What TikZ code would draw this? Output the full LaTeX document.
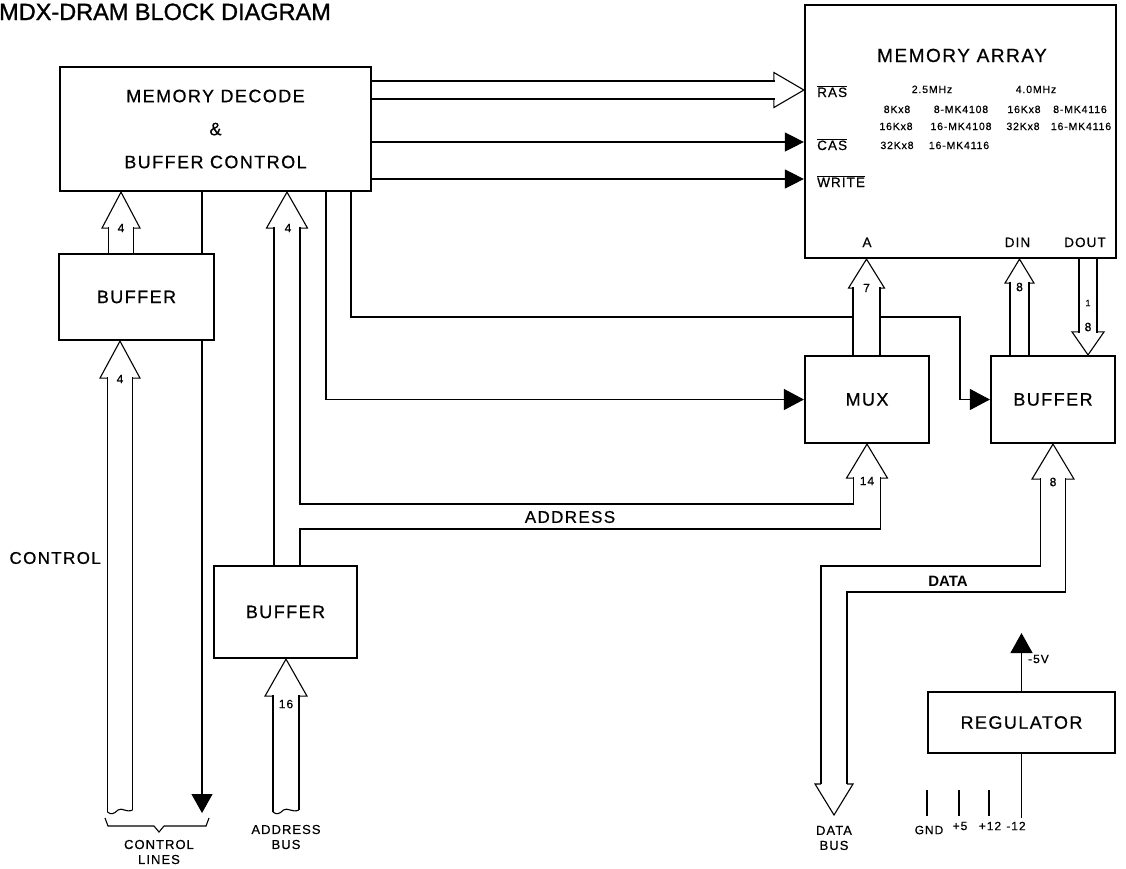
\documentclass[tikz,border=0pt]{standalone}
\usepackage{fontspec}
\setmainfont{Liberation Sans}
\newfontfamily\lblfont[LetterSpace=8,FakeBold=0.6]{Liberation Sans}
\newfontfamily\titlefont[FakeBold=1.2]{Liberation Sans}
\usetikzlibrary{arrows.meta,calc}

\tikzset{
  block/.style={draw,line width=2.2pt,inner sep=0pt,align=center,
    font=\lblfont\fontsize{18}{33}\selectfont},
  wire/.style={line width=1.1pt},
  bus/.style={line width=1.1pt,line join=miter},
  tri/.style={-{Triangle[length=19pt,width=19pt]}},
  buslbl/.style={font=\lblfont\fontsize{12}{12}\selectfont,inner sep=0pt},
  sig/.style={font=\lblfont\fontsize{13.5}{14}\selectfont,inner sep=0pt,anchor=base west},
  pinname/.style={font=\lblfont\fontsize{13.5}{14}\selectfont,inner sep=0pt,anchor=base},
  part/.style={font=\lblfont\fontsize{10.5}{11}\selectfont,inner sep=0pt,anchor=base},
  botlbl/.style={font=\lblfont\fontsize{13}{15}\selectfont,inner sep=0pt,align=center},
  pwr/.style={font=\lblfont\fontsize{12}{12}\selectfont,inner sep=0pt},
}

% open bus arrow head: tip, rotation, head length, head half width, shaft half width
\newcommand{\bushead}[5]{%
  \draw[bus,shift={#1},rotate=#2] (-#5,#3) -- (-#4,#3) -- (0,0) -- (#4,#3) -- (#5,#3);}

\begin{document}
\begin{tikzpicture}[x=1pt,y=-1pt]
  \useasboundingbox (0,0) rectangle (1126,868);
  \node[font=\titlefont\fontsize{23.5}{24}\selectfont,anchor=base west,inner sep=0pt] (title) at (-1,20) {MDX-DRAM BLOCK DIAGRAM};

  % blocks
  \node[block,minimum width=311pt,minimum height=124pt] (dec)  at (215.5,129)  {MEMORY DECODE\\\&\\BUFFER CONTROL};
  \node[block,minimum width=155pt,minimum height=86pt]  (cbuf) at (136.5,297)  {BUFFER};
  \node[block,minimum width=143pt,minimum height=92pt]  (abuf) at (285.5,612)  {BUFFER};
  \node[block,minimum width=311pt,minimum height=253pt] (mem)  at (960.5,131.5) {};
  \node[block,minimum width=124pt,minimum height=87pt]  (mux)  at (867,399.5)  {MUX};
  \node[block,minimum width=124pt,minimum height=87pt]  (dbuf) at (1053,399.5) {BUFFER};
  \node[block,minimum width=187pt,minimum height=61pt]  (reg)  at (1021.5,722.5) {REGULATOR};

  % memory array contents
  \node[font=\lblfont\fontsize{19}{19}\selectfont,anchor=base,inner sep=0pt] (mtitle) at (962,62) {MEMORY ARRAY};
  \node[sig] (ras) at (817,97)  {$\overline{\hbox{RAS}}$};
  \node[sig] (cas) at (817,150) {$\overline{\hbox{CAS}}$};
  \node[sig] (wr)  at (817,187) {$\overline{\hbox{WRITE}}$};
  \node[part] (f1) at (932,93) {2.5MHz};
  \node[part] (f2) at (1036,93) {4.0MHz};
  \node[part] (p11) at (897,113) {8Kx8};
  \node[part] (p12) at (961,113) {8-MK4108};
  \node[part] (p13) at (1024,113) {16Kx8};
  \node[part] (p14) at (1080,113) {8-MK4116};
  \node[part] (p21) at (896,130) {16Kx8};
  \node[part] (p22) at (961,130) {16-MK4108};
  \node[part] (p23) at (1023,130) {32Kx8};
  \node[part] (p24) at (1081,130) {16-MK4116};
  \node[part] (p31) at (897,149) {32Kx8};
  \node[part] (p32) at (959,149) {16-MK4116};
  \node[pinname] (pa)    at (867,247)    {A};
  \node[pinname] (pdin)  at (1017.5,247) {DIN};
  \node[pinname] (pdout) at (1085,247)   {DOUT};

  % decode -> memory array
  \draw[bus] (dec.east |- 0,81) -- (775,81);
  \draw[bus] (dec.east |- 0,99) -- (775,99);
  \bushead{(mem.west |- 0,90)}{-90}{30}{17.5}{9}
  \draw[wire,tri] (dec.east |- 0,142) -- (mem.west |- 0,142);
  \draw[wire,tri] (dec.east |- 0,179) -- (mem.west |- 0,179);

  % control lines
  \bushead{(121,0 |- dec.south)}{0}{36}{19}{12.5}
  \draw[bus] (108.5,227) -- (108.5,0 |- cbuf.north);
  \draw[bus] (133.5,227) -- (133.5,0 |- cbuf.north);
  \node[buslbl] (n4a) at (121,228) {4};
  \bushead{(120,0 |- cbuf.south)}{0}{37}{20}{12.5}
  \draw[bus] (107.5,377) -- (107.5,812);
  \draw[bus] (132.5,377) -- (132.5,810);
  \draw[bus] (107.5,812) .. controls (111,815) and (114,814) .. (118,810) .. controls (122,807) and (126,813) .. (132.5,810);
  \node[buslbl] (n4b) at (120,379) {4};
  \coordinate (ctlend) at (202,813);
  \draw[wire] (202,0 |- dec.south) -- (202,0 |- cbuf.north);
  \draw[wire,-{Triangle[length=19pt,width=21pt]}] (202,0 |- cbuf.south) -- (ctlend);
  \draw[wire] (105,818) -- (108,826) -- (154,826) -- (159,832) -- (164,826) -- (206,826) -- (209,818);
  \node[botlbl] (ctllines) at (159,852) {CONTROL\\LINES};
  \node[font=\lblfont\fontsize{17}{17}\selectfont,anchor=east,inner sep=0pt] (ctl) at (101,558) {CONTROL};

  % address bus
  \bushead{(287,0 |- dec.south)}{0}{36}{20.5}{13}
  \node[buslbl] (n4c) at (288,228) {4};
  \draw[bus] (274,227) -- (274,0 |- abuf.north);
  \draw[bus] (300,227) -- (300,504) -- (853.5,504) -- (853.5,477);
  \draw[bus] (300,0 |- abuf.north) -- (300,529) -- (880.5,529) -- (880.5,477);
  \bushead{(mux.south)}{0}{34}{20.5}{13.5}
  \node[buslbl] (n14) at (867,481) {14};
  \node[font=\lblfont\fontsize{17}{17}\selectfont,inner sep=0pt] (addr) at (570,517) {ADDRESS};
  \bushead{(286,0 |- abuf.south)}{0}{37}{21}{13}
  \draw[bus] (273,695) -- (273,812);
  \draw[bus] (299,695) -- (299,810);
  \draw[bus] (273,812) .. controls (276.5,815) and (279.5,814) .. (283.5,810) .. controls (287.5,807) and (292,813) .. (299,810);
  \node[buslbl] (n16) at (286,704) {16};
  \node[botlbl] (abus) at (286,837) {ADDRESS\\BUS};

  % strobes to mux and data buffer
  \draw[wire,-{Triangle[length=20pt,width=21pt]}] (326,0 |- dec.south) |- (mux.west);
  \draw[wire] (351,0 |- dec.south) |- (853,317);
  \draw[wire,-{Triangle[length=20pt,width=21pt]}] (880,317) -- (960,317) |- (dbuf.west);

  % mux -> memory array
  \bushead{(866.5,0 |- mem.south)}{0}{29}{18}{13.5}
  \draw[bus] (853,287) -- (853,0 |- mux.north);
  \draw[bus] (880,287) -- (880,0 |- mux.north);
  \node[buslbl] (n7) at (866.5,288) {7};

  % data in / out
  \bushead{(1019.5,0 |- mem.south)}{0}{24}{14.5}{9.5}
  \draw[bus] (1010,282) -- (1010,0 |- dbuf.north);
  \draw[bus] (1029,282) -- (1029,0 |- dbuf.north);
  \node[buslbl] (n8a) at (1019.5,287) {8};
  \draw[bus] (1079,0 |- mem.south) -- (1079,333);
  \draw[bus] (1097,0 |- mem.south) -- (1097,333);
  \bushead{(1088,0 |- dbuf.north)}{180}{23}{16}{9}
  \node[font=\lblfont\fontsize{9}{9}\selectfont,inner sep=0pt] (n1) at (1088,303) {1};
  \node[buslbl] (n8b) at (1088,327) {8};

  % data bus
  \bushead{(1053,0 |- dbuf.south)}{0}{35}{21}{12.5}
  \draw[bus] (1040.5,478) -- (1040.5,566) -- (821,566) -- (821,784);
  \draw[bus] (1065.5,478) -- (1065.5,592) -- (847,592) -- (847,784);
  \coordinate (dbusend) at (834,815);
  \bushead{(dbusend)}{180}{31}{19}{13}
  \node[buslbl] (n8c) at (1053,482) {8};
  \node[font=\bfseries\fontsize{15}{15}\selectfont,inner sep=0pt] (data) at (948,581) {DATA};
  \node[botlbl] (dbus) at (834,838) {DATA\\BUS};

  % regulator
  \coordinate (vneg) at (1021.5,633);
  \coordinate (m12) at (1021.5,818);
  \draw[wire,-{Triangle[length=20pt,width=22pt]}] (reg.north) -- (vneg);
  \node[pwr,anchor=west] (m5v) at (1028,659) {-5V};
  \draw[wire] (reg.south) -- (m12);
  \foreach \x in {927,959,989}
    \draw[wire] (\x,790) -- (\x,816);
  \node[pwr] (lgnd) at (929,830) {GND};
  \node[pwr] (lp5)  at (960,826) {+5};
  \node[pwr] (lp12) at (990,826) {+12};
  \node[pwr] (lm12) at (1016,826) {-12};
\end{tikzpicture}
\end{document}
